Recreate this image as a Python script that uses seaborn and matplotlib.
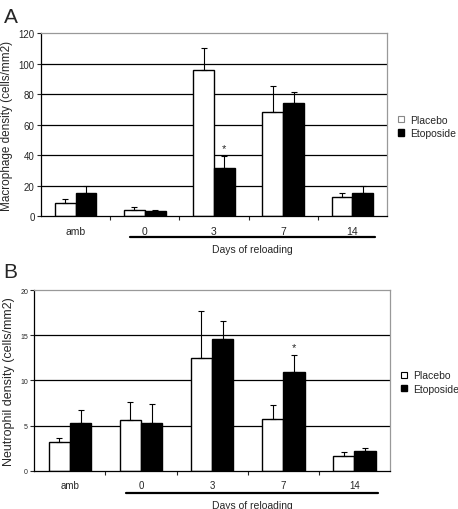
import numpy as np
import pandas as pd
import matplotlib
matplotlib.use("Agg")
import matplotlib.pyplot as plt
import seaborn as sns

# data
groups = ['amb', '0', '3', '7', '14']
treatments = ['Placebo', 'Etoposide']

mac_placebo = [8.5, 4.0, 95.5, 68.0, 12.2]
mac_placebo_err = [2.5, 1.6, 14.5, 17.0, 3.0]
mac_etoposide = [14.8, 3.0, 31.7, 73.8, 14.8]
mac_etoposide_err = [4.6, 0.7, 7.6, 7.2, 5.2]

neu_placebo = [3.2, 5.57, 12.5, 5.76, 1.66]
neu_placebo_err = [0.45, 2.07, 5.2, 1.48, 0.44]
neu_etoposide = [5.24, 5.28, 14.58, 10.9, 2.2]
neu_etoposide_err = [1.51, 2.1, 2.02, 1.95, 0.3]

sns.set_style('white')
plt.rcParams['font.family'] = ['Liberation Sans', 'DejaVu Sans']


def draw_panel(ax, placebo, placebo_err, etop, etop_err, ymax, ystep,
               ylabel, star, ytick_size, label_size, ylabel_size, line_y,
               legend_edge):
    df = pd.DataFrame({
        'day': groups * 2,
        'treatment': [treatments[0]] * len(groups) + [treatments[1]] * len(groups),
        'value': placebo + etop,
    })
    sns.barplot(data=df, x='day', y='value', hue='treatment',
                palette={'Placebo': 'white', 'Etoposide': 'black'},
                edgecolor='black', linewidth=1.0, width=0.6, errorbar=None,
                ax=ax, zorder=2)

    # upper-only error bars
    for cont, errs in zip(ax.containers, [placebo_err, etop_err]):
        for bar, e in zip(cont, errs):
            x = bar.get_x() + bar.get_width() / 2
            h = bar.get_height()
            ax.errorbar(x, h, yerr=[[0], [e]], color='black', capsize=2.2,
                        elinewidth=0.8, capthick=0.8, zorder=3)

    # significance star
    s_hue, s_idx = star
    bar = ax.containers[s_hue][s_idx]
    errs = [placebo_err, etop_err][s_hue]
    ax.annotate('*', (bar.get_x() + bar.get_width() / 2, bar.get_height() + errs[s_idx]),
                xytext=(0, 2), textcoords='offset points', ha='center', va='bottom',
                fontsize=8)

    ax.set_ylim(0, ymax)
    ax.set_xlim(-0.5, len(groups) - 0.5)
    yt = np.arange(0, ymax + ystep / 2, ystep)
    ax.set_yticks(yt)
    ax.set_yticklabels([f'{int(v)}' for v in yt], fontsize=ytick_size)
    for v in yt[1:-1]:
        ax.axhline(v, color='black', lw=0.9, zorder=0)

    ax.set_xticks(np.arange(len(groups) - 1) + 0.5)
    ax.set_xticklabels([])
    ax.set_xticks(range(len(groups)), labels=groups, minor=True)
    ax.tick_params(axis='x', which='major', direction='out', length=3,
                   width=0.8, bottom=True)
    ax.tick_params(axis='x', which='minor', length=0, pad=7,
                   labelsize=label_size)
    ax.tick_params(axis='y', direction='out', length=3, width=0.8, left=True,
                   pad=1.5)
    ax.set_xlabel('')
    ax.set_ylabel(ylabel, fontsize=ylabel_size, labelpad=4)

    for side in ['top', 'right']:
        ax.spines[side].set_color('#999999')
        ax.spines[side].set_linewidth(0.9)
    for side in ['left', 'bottom']:
        ax.spines[side].set_color('black')
        ax.spines[side].set_linewidth(0.9)

    # "Days of reloading" bracket line
    trans = ax.get_xaxis_transform()
    ax.plot([0.79, 4.33], [line_y, line_y], color='black', lw=1.6,
            transform=trans, clip_on=False)
    ax.text(2.56, line_y - 0.04, 'Days of reloading', transform=trans,
            ha='center', va='top', fontsize=7.5)

    leg = ax.legend(loc='center left', bbox_to_anchor=(1.005, 0.49),
                    frameon=False, fontsize=7.5, handlelength=0.55,
                    handleheight=0.55, handletextpad=0.6, labelspacing=0.35)
    handles = leg.legend_handles
    handles[0].set_edgecolor(legend_edge)
    handles[0].set_linewidth(0.8)


fig = plt.figure(figsize=(4.58, 5.10), dpi=100)
ax_a = fig.add_axes([0.0895, 0.5745, 0.7555, 0.3588])
ax_b = fig.add_axes([0.0749, 0.0751, 0.7766, 0.3543])

draw_panel(ax_a, mac_placebo, mac_placebo_err, mac_etoposide, mac_etoposide_err,
           120, 20, 'Macrophage density (cells/mm2)', (1, 2), 7, 7.5, 8.5,
           -0.115, '#888888')
draw_panel(ax_b, neu_placebo, neu_placebo_err, neu_etoposide, neu_etoposide_err,
           20, 5, 'Neutrophil density (cells/mm2)', (1, 3), 5, 7, 9,
           -0.122, 'black')

fig.text(0.008, 0.985, 'A', fontsize=15, ha='left', va='top')
fig.text(0.008, 0.485, 'B', fontsize=15, ha='left', va='top')

fig.savefig('out.png', dpi=100)
